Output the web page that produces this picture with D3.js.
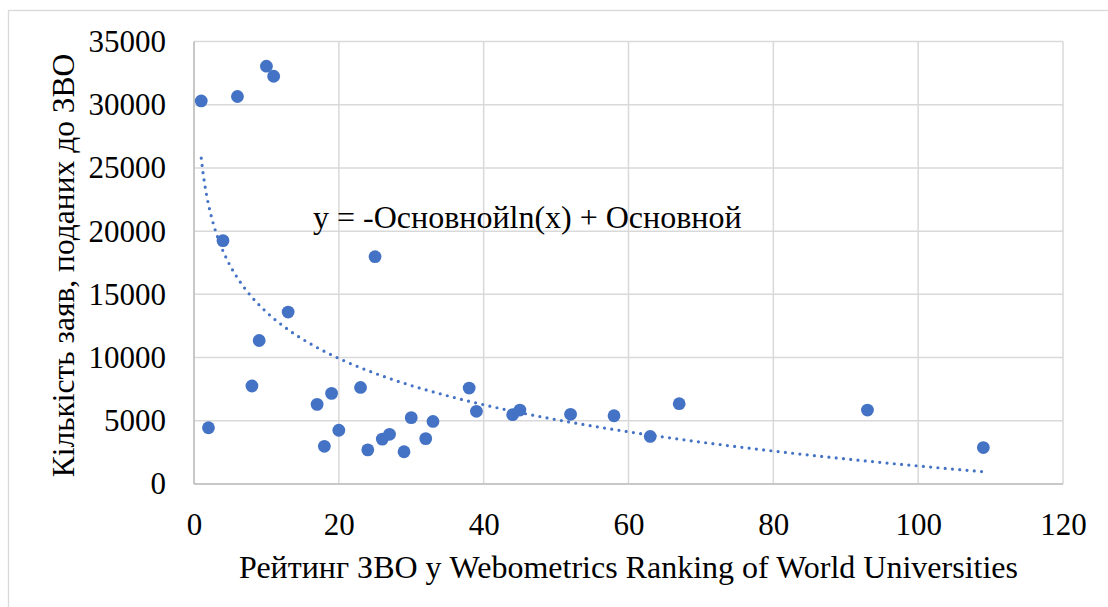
<!DOCTYPE html>
<html>
<head>
<meta charset="utf-8">
<script src="https://cdn.jsdelivr.net/npm/d3@7/dist/d3.min.js"></script>
<style>
  html, body { margin: 0; padding: 0; background: #fff; }
  svg { display: block; }
  svg text { font-family: "Liberation Serif", "Times New Roman", Times, "DejaVu Serif", serif; }
</style>
</head>
<body>
<svg id="chart" width="1108" height="607"></svg>
<script>
// Data
const ranks = [1, 2, 4, 6, 8, 9, 10, 11, 13, 17, 18, 19, 20, 23, 24, 25, 26, 27, 29, 30, 32, 33, 38, 39, 44, 45, 52, 58, 63, 67, 93, 109];
const applications = [30300, 4450, 19250, 30650, 7750, 11350, 33050, 32250, 13600, 6300, 2980, 7170, 4250, 7640, 2700, 17980, 3550, 3930, 2550, 5250, 3590, 4950, 7590, 5750, 5480, 5850, 5510, 5400, 3760, 6350, 5850, 2880];
const xTicks = [0, 20, 40, 60, 80, 100, 120];
const yTicks = [0, 5000, 10000, 15000, 20000, 25000, 30000, 35000];
const xTitle = "Рейтинг ЗВО у Webometrics Ranking of World Universities";
const yTitle = "Кількість заяв, поданих до ЗВО";
const trendLabel = "y = -Основнойln(x) + Основной";

const FONT = '"Liberation Serif", "Times New Roman", Times, "DejaVu Serif", serif';
const svg = d3.select("#chart");
const W = 1108, H = 607;
const plot = { left: 194, right: 1063, top: 41.5, bottom: 484 };

const x = d3.scaleLinear().domain([0, 120]).range([plot.left, plot.right]);
const y = d3.scaleLinear().domain([0, 35000]).range([plot.bottom, plot.top]);

// outer chart border (cut at right/bottom in reference)
svg.append("rect").attr("x", 8.5).attr("y", 10.5).attr("width", W + 10).attr("height", H + 10)
  .attr("fill", "none").attr("stroke", "#d9d9d9").attr("stroke-width", 1.3);

// gridlines
const grid = svg.append("g");
grid.selectAll("line.h").data(yTicks).join("line")
  .attr("x1", plot.left).attr("x2", plot.right)
  .attr("y1", d => y(d)).attr("y2", d => y(d))
  .attr("stroke", "#d9d9d9").attr("stroke-width", 1.5);
grid.selectAll("line.v").data(xTicks).join("line")
  .attr("y1", plot.top).attr("y2", plot.bottom)
  .attr("x1", d => x(d)).attr("x2", d => x(d))
  .attr("stroke", "#d9d9d9").attr("stroke-width", 1.5);

// axis lines (slightly darker)
svg.append("line").attr("x1", plot.left).attr("x2", plot.right).attr("y1", plot.bottom).attr("y2", plot.bottom)
  .attr("stroke", "#bfbfbf").attr("stroke-width", 1.5);
svg.append("line").attr("x1", plot.left).attr("x2", plot.left).attr("y1", plot.top).attr("y2", plot.bottom)
  .attr("stroke", "#bfbfbf").attr("stroke-width", 1.5);

// axes tick labels via d3 axes
const yAxis = d3.axisLeft(y).tickValues(yTicks).tickSize(0).tickPadding(28).tickFormat(d3.format("d"));
const gy = svg.append("g").attr("transform", `translate(${plot.left},0)`).call(yAxis)
  .attr("font-family", FONT);
gy.select(".domain").remove();
gy.selectAll("text").attr("font-size", 31).attr("fill", "#000");

const xAxis = d3.axisBottom(x).tickValues(xTicks).tickSize(0).tickPadding(29).tickFormat(d3.format("d"));
const gx = svg.append("g").attr("transform", `translate(0,${plot.bottom})`).call(xAxis)
  .attr("font-family", FONT);
gx.select(".domain").remove();
gx.selectAll("text").attr("font-size", 31).attr("fill", "#000");

// trendline: logarithmic least-squares fit over the data
const lx = ranks.map(Math.log);
const n = ranks.length;
const mx = d3.mean(lx), my = d3.mean(applications);
let sxy = 0, sxx = 0;
for (let i = 0; i < n; i++) { sxy += (lx[i] - mx) * (applications[i] - my); sxx += (lx[i] - mx) ** 2; }
const a = sxy / sxx, b = my - a * mx;
const xs = d3.range(1, 109.001, 0.25);
const line = d3.line().x(d => x(d)).y(d => y(a * Math.log(d) + b));
svg.append("path").datum(xs).attr("d", line)
  .attr("fill", "none").attr("stroke", "#4472C4").attr("stroke-width", 3.2)
  .attr("stroke-linecap", "round").attr("stroke-dasharray", "0 7.3");

// points
svg.append("g").selectAll("circle").data(ranks).join("circle")
  .attr("cx", d => x(d)).attr("cy", (d, i) => y(applications[i])).attr("r", 6.4)
  .attr("fill", "#4472C4");

// trend equation label
svg.append("text").attr("x", 313).attr("y", 228).attr("font-size", 32).attr("font-family", FONT).text(trendLabel);

// axis titles
svg.append("text").attr("x", (plot.left + plot.right) / 2).attr("y", 578)
  .attr("text-anchor", "middle").attr("font-size", 32).attr("font-family", FONT).text(xTitle);
svg.append("text").attr("transform", `translate(74,265.5) rotate(-90)`)
  .attr("text-anchor", "middle").attr("font-size", 31.5).attr("font-family", FONT).text(yTitle);
</script>
</body>
</html>
